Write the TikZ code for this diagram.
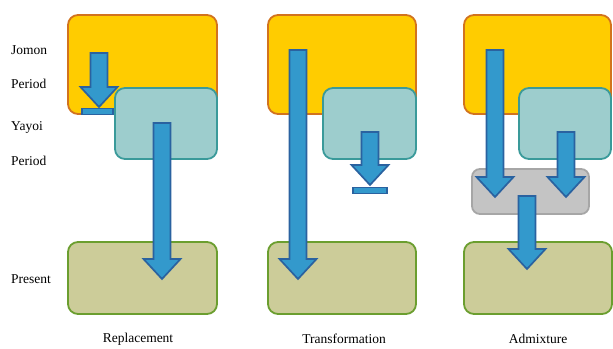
\documentclass[tikz,border=0pt]{standalone}
\usepackage{fontspec}
\setmainfont{Liberation Serif}
\usetikzlibrary{calc}
\definecolor{jomonfill}{HTML}{FFCC00}
\definecolor{jomonline}{HTML}{D2731E}
\definecolor{yayoifill}{HTML}{9DCDCD}
\definecolor{yayoiline}{HTML}{3A9A9A}
\definecolor{presentfill}{HTML}{CCCC99}
\definecolor{presentline}{HTML}{6B9E2F}
\definecolor{mixfill}{HTML}{C4C4C4}
\definecolor{mixline}{HTML}{A6A6A6}
\definecolor{arrowfill}{HTML}{3399CC}
\definecolor{arrowline}{HTML}{2A62A0}
\tikzstyle{jomon} = [rectangle, rounded corners=10pt, minimum width=149pt, minimum height=99pt, draw=jomonline, fill=jomonfill, line width=1.8pt]
\tikzstyle{yayoi} = [rectangle, rounded corners=10pt, minimum height=71pt, draw=yayoiline, fill=yayoifill, line width=1.8pt]
\tikzstyle{present} = [rectangle, rounded corners=10pt, minimum width=149pt, minimum height=72pt, draw=presentline, fill=presentfill, line width=1.8pt]
\tikzstyle{mixbox} = [rectangle, rounded corners=8pt, minimum width=117pt, minimum height=45pt, draw=mixline, fill=mixfill, line width=1.8pt]
\tikzstyle{stopbar} = [rectangle, inner sep=0pt, minimum height=6pt, draw=arrowline, fill=arrowfill, line width=1.4pt]
\tikzstyle{blockarrow} = [draw=arrowline, fill=arrowfill, line width=1.7pt, to path={let \p1=(\tikztostart), \p2=(\tikztotarget) in (\x1-8.5pt,\y1) -- (\x1+8.5pt,\y1) -- (\x1+8.5pt,\y2+20pt) -- (\x1+18.5pt,\y2+20pt) -- (\x2,\y2) -- (\x1-18.5pt,\y2+20pt) -- (\x1-8.5pt,\y2+20pt) -- cycle}]
\tikzstyle{sidelabel} = [anchor=west, inner sep=0pt, font=\fontsize{13.5}{16}\selectfont]
\tikzstyle{caption} = [inner sep=0pt, font=\fontsize{13.5}{16}\selectfont]
\begin{document}
\begin{tikzpicture}[x=1pt,y=-1pt]
\useasboundingbox (0,0) rectangle (613,348);
% period labels
\node (jomon) at (11,50) [sidelabel] {Jomon};
\node (jperiod) at (11,84) [sidelabel] {Period};
\node (yayoi) at (11,127) [sidelabel] {Yayoi};
\node (yperiod) at (11,161) [sidelabel] {Period};
\node (present) at (11,279) [sidelabel] {Present};
%
% Replacement
\node (j1) at (142.5,64.5) [jomon] {};
\node (y1) at (166,123.5) [yayoi, minimum width=102pt] {};
\node (p1) at (142.5,278) [present] {};
\coordinate (a1s) at (99,53);
\coordinate (a1e) at (99,107);
\coordinate (b1s) at (162,123);
\coordinate (b1e) at (162,279);
\node (bar1) at (97.5,111.5) [stopbar, minimum width=31pt] {};
\draw [blockarrow] (a1s) to (a1e);
\draw [blockarrow] (b1s) to (b1e);
\node (cap1) at (138,339) [caption] {Replacement};
%
% Transformation
\node (j2) at (342,64.5) [jomon, minimum width=148pt] {};
\node (y2) at (369.5,123.5) [yayoi, minimum width=93pt] {};
\node (p2) at (342,278) [present, minimum width=148pt] {};
\coordinate (a2s) at (298,50);
\coordinate (a2e) at (298,279);
\coordinate (b2s) at (370,132);
\coordinate (b2e) at (370,185);
\node (bar2) at (370,190.5) [stopbar, minimum width=34pt] {};
\draw [blockarrow] (a2s) to (a2e);
\draw [blockarrow] (b2s) to (b2e);
\node (cap2) at (344,339) [caption] {Transformation};
%
% Admixture
\node (j3) at (537.5,64.5) [jomon, minimum width=147pt] {};
\node (y3) at (565,123.5) [yayoi, minimum width=92pt] {};
\node (g3) at (530.5,191.5) [mixbox] {};
\node (p3) at (538,278) [present, minimum width=148pt] {};
\coordinate (a3s) at (495,50);
\coordinate (a3e) at (495,197);
\coordinate (b3s) at (566,132);
\coordinate (b3e) at (566,197);
\coordinate (c3s) at (527,196);
\coordinate (c3e) at (527,269);
\draw [blockarrow] (c3s) to (c3e);
\draw [blockarrow] (a3s) to (a3e);
\draw [blockarrow] (b3s) to (b3e);
\node (cap3) at (538,339) [caption] {Admixture};

\end{tikzpicture}
\end{document}
